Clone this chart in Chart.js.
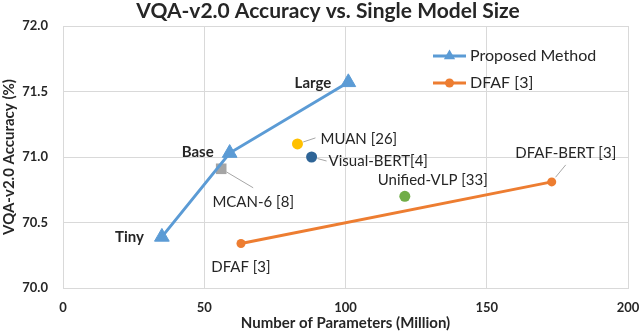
<!DOCTYPE html>
<html>
<head>
<meta charset="utf-8">
<script src="https://cdn.jsdelivr.net/npm/chart.js@4.4.1/dist/chart.umd.min.js"></script>
<style>
html,body{margin:0;padding:0;background:#fff;}
#wrap{width:640px;height:332px;position:relative;}
</style>
</head>
<body>
<div id="wrap"><canvas id="c" width="640" height="332"></canvas></div>
<script>
// ---- data ----
const chartTitle = 'VQA-v2.0 Accuracy vs. Single Model Size';
const xAxisTitle = 'Number of Parameters (Million)';
const yAxisTitle = 'VQA-v2.0 Accuracy (%)';
const xTicks = [0, 50, 100, 150, 200];
const yTicks = [70.0, 70.5, 71.0, 71.5, 72.0];

const proposedName = 'Proposed Method';
const proposedX = [35, 59, 101];
const proposedY = [70.39, 71.03, 71.57];
const proposedLabels = ['Tiny', 'Base', 'Large'];

const dfafName = 'DFAF [3]';
const dfafX = [63, 173];
const dfafY = [70.34, 70.81];
const dfafLabels = ['DFAF [3]', 'DFAF-BERT [3]'];

const otherNames = ['MUAN [26]', 'Visual-BERT[4]', 'Unified-VLP [33]', 'MCAN-6 [8]'];
const otherX = [83, 88, 121, 56];
const otherY = [71.10, 71.00, 70.70, 70.91];

// ---- styles ----
const BLUE = '#5B9BD5', ORANGE = '#ED7D31';
const otherColors = ['#FFC000', '#2E6496', '#70AD47', '#A5A5A5'];
const otherStyles = ['circle', 'circle', 'circle', 'rect'];
const otherRadius = [5.5, 5.5, 5.5, 7.5];
const FONT = 'Lato, "Open Sans", sans-serif';
const TEXT = '#262626';
const GRID = '#D9D9D9';

const datasets = [
  {
    label: proposedName,
    data: proposedX.map((x, i) => ({x, y: proposedY[i]})),
    showLine: true, borderColor: BLUE, backgroundColor: BLUE, borderWidth: 3,
    pointStyle: 'triangle', pointRadius: 8.5, pointHoverRadius: 8.5,
    pointBackgroundColor: BLUE, pointBorderColor: BLUE, pointBorderWidth: 1
  },
  {
    label: dfafName,
    data: dfafX.map((x, i) => ({x, y: dfafY[i]})),
    showLine: true, borderColor: ORANGE, backgroundColor: ORANGE, borderWidth: 3,
    pointStyle: 'circle', pointRadius: 4.5, pointHoverRadius: 4.5,
    pointBackgroundColor: ORANGE, pointBorderColor: ORANGE, pointBorderWidth: 0
  }
];
otherNames.forEach((n, i) => {
  datasets.push({
    label: n,
    data: [{x: otherX[i], y: otherY[i]}],
    showLine: false,
    pointStyle: otherStyles[i], pointRadius: otherRadius[i], pointHoverRadius: otherRadius[i],
    pointBackgroundColor: otherColors[i], pointBorderColor: otherColors[i], pointBorderWidth: 0
  });
});

// label placement: [dx, dy, align, leaderEnd(dx,dy) or null]
const proposedPlace = [[-18, 0, 'right'], [-16, -1, 'right'], [-17, 1, 'right']];
const dfafPlace = [[0, 24, 'center', null], [14, -29, 'center', [14, -17]]];
const otherPlace = [
  [23, -5, 'left', [18, -6]],
  [17, 4, 'left', [15, 4]],
  [28, -16, 'center', null],
  [32, 33, 'center', [32, 19]]
];

const labelPlugin = {
  id: 'labels',
  afterDatasetsDraw(chart) {
    const ctx = chart.ctx;
    ctx.save();
    ctx.textBaseline = 'middle';
    // proposed (bold)
    const m0 = chart.getDatasetMeta(0).data;
    ctx.font = 'bold 15px ' + FONT;
    ctx.fillStyle = TEXT;
    proposedLabels.forEach((t, i) => {
      const p = m0[i], pl = proposedPlace[i];
      ctx.textAlign = pl[2];
      ctx.fillText(t, p.x + pl[0], p.y + pl[1]);
    });
    ctx.font = '15px ' + FONT;
    ctx.strokeStyle = '#A6A6A6';
    ctx.lineWidth = 1;
    const drawLab = (p, t, pl) => {
      if (pl[3]) {
        const dx = pl[3][0], dy = pl[3][1];
        const len = Math.hypot(dx, dy);
        ctx.beginPath();
        ctx.moveTo(p.x + dx / len * 6, p.y + dy / len * 6);
        ctx.lineTo(p.x + dx, p.y + dy);
        ctx.stroke();
      }
      ctx.textAlign = pl[2];
      ctx.fillText(t, p.x + pl[0], p.y + pl[1]);
    };
    const m1 = chart.getDatasetMeta(1).data;
    dfafLabels.forEach((t, i) => drawLab(m1[i], t, dfafPlace[i]));
    otherNames.forEach((t, i) => drawLab(chart.getDatasetMeta(2 + i).data[0], t, otherPlace[i]));

    // legend
    const lx0 = 433, lx1 = 466;
    [[proposedName, BLUE, 'triangle', 6.5, 56], [dfafName, ORANGE, 'circle', 4.5, 83]].forEach(e => {
      ctx.strokeStyle = e[1];
      ctx.lineWidth = 3;
      ctx.beginPath(); ctx.moveTo(lx0, e[4]); ctx.lineTo(lx1, e[4]); ctx.stroke();
      ctx.fillStyle = e[1];
      Chart.helpers.drawPoint(ctx, {pointStyle: e[2], radius: e[3], borderWidth: 0}, (lx0 + lx1) / 2, e[4]);
      ctx.fillStyle = TEXT;
      ctx.textAlign = 'left';
      ctx.font = '16px ' + FONT;
      ctx.fillText(e[0], 470, e[4]);
    });
    // title
    ctx.font = 'bold 21px ' + FONT;
    ctx.fillStyle = TEXT;
    ctx.textAlign = 'center';
    ctx.fillText(chartTitle, 328, 11);
    ctx.restore();
  }
};

new Chart(document.getElementById('c'), {
  type: 'scatter',
  data: {datasets},
  plugins: [labelPlugin],
  options: {
    responsive: false,
    animation: false,
    devicePixelRatio: 1,
    layout: {padding: {top: 26, right: 0, left: 0, bottom: 0}},
    plugins: {legend: {display: false}, title: {display: false}, tooltip: {enabled: false}},
    scales: {
      x: {
        type: 'linear', min: 0, max: 200,
        afterBuildTicks(s) { s.ticks = xTicks.map(v => ({value: v})); },
        afterFit(s) { s.height = 44; s.paddingRight = 12; },
        grid: {color: GRID, lineWidth: 1, drawTicks: false, tickLength: 0},
        border: {color: GRID, width: 1},
        ticks: {padding: 12, color: TEXT, font: {family: FONT, size: 13, weight: 'bold'}, callback: v => String(v)},
        title: {display: true, text: xAxisTitle, color: TEXT, padding: {top: 0, bottom: 0}, font: {family: FONT, size: 15, weight: 'bold'}}
      },
      y: {
        type: 'linear', min: 70, max: 72,
        afterBuildTicks(s) { s.ticks = yTicks.map(v => ({value: v})); },
        afterFit(s) { s.width = 63; },
        grid: {color: GRID, lineWidth: 1, drawTicks: false, tickLength: 0},
        border: {color: GRID, width: 1},
        ticks: {padding: 15, color: TEXT, font: {family: FONT, size: 13, weight: 'bold'}, callback: v => v.toFixed(1)},
        title: {display: true, text: yAxisTitle, color: TEXT, padding: {top: 0, bottom: 0}, font: {family: FONT, size: 15, weight: 'bold'}}
      }
    }
  }
});
</script>
</body>
</html>
